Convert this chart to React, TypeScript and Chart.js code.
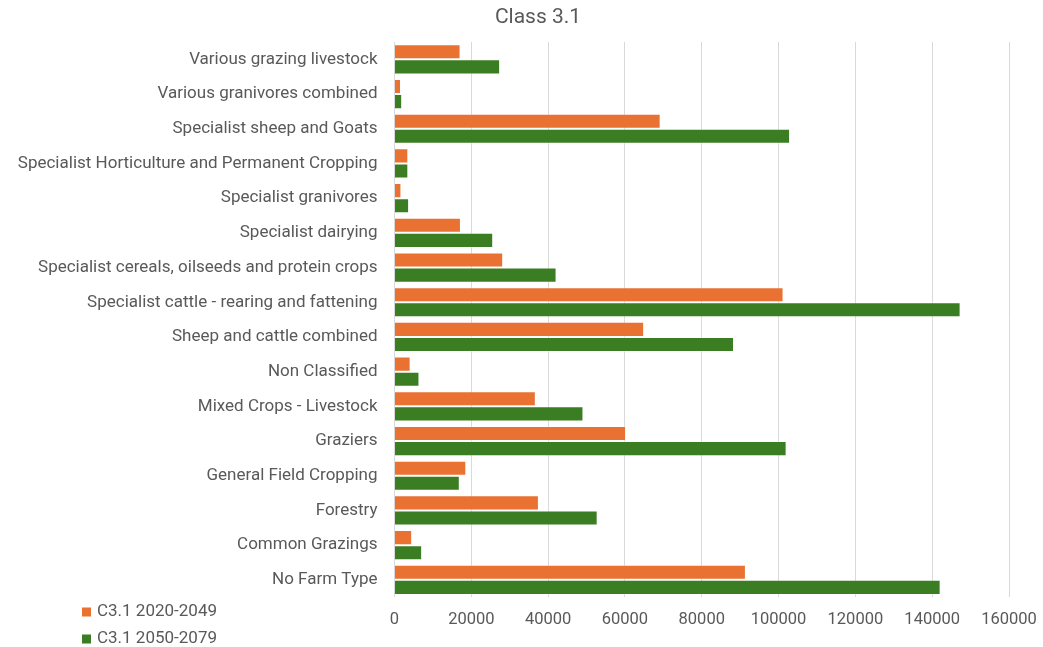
import React, { useEffect, useRef } from "react";
import { Chart, registerables } from "chart.js";

Chart.register(...registerables);

const categories: string[] = [
  "Various grazing livestock",
  "Various granivores combined",
  "Specialist sheep and Goats",
  "Specialist Horticulture and Permanent Cropping",
  "Specialist granivores",
  "Specialist dairying",
  "Specialist cereals, oilseeds and protein crops",
  "Specialist cattle - rearing and fattening",
  "Sheep and cattle combined",
  "Non Classified",
  "Mixed Crops - Livestock",
  "Graziers",
  "General Field Cropping",
  "Forestry",
  "Common Grazings",
  "No Farm Type",
];

const series2020: number[] = [
  17200, 1700, 69300, 3600, 1800, 17300, 28300, 101300, 65000, 4200, 36800, 60300, 18700, 37600, 4600, 91500,
];

const series2050: number[] = [
  27500, 2000, 103000, 3600, 3800, 25700, 42200, 147400, 88400, 6500, 49200, 102100, 17000, 52900, 7200, 142200,
];

const seriesNames: string[] = ["C3.1 2020-2049", "C3.1 2050-2079"];
const titleText = "Class 3.1";
const xTickMax = 160000;
const xTickStep = 20000;

const FONT = "Roboto";
const TEXT = "#595959";
const ORANGE = "#E97132";
const GREEN = "#3B7D23";

export default function App() {
  const ref = useRef<HTMLCanvasElement | null>(null);

  useEffect(() => {
    if (!ref.current) return;
    const overlay = {
      id: "overlay",
      afterDraw(chart: any) {
        const ctx = chart.ctx as CanvasRenderingContext2D;
        ctx.save();
        ctx.fillStyle = TEXT;
        ctx.font = `21px ${FONT}`;
        ctx.textAlign = "center";
        ctx.textBaseline = "middle";
        ctx.fillText(titleText, 538, 18);
        const colors = [ORANGE, GREEN];
        const rows = [612, 639];
        ctx.font = `17px ${FONT}`;
        ctx.textAlign = "left";
        seriesNames.forEach((name, i) => {
          ctx.fillStyle = colors[i];
          ctx.fillRect(82, rows[i] - 4.5, 9, 9);
          ctx.fillStyle = TEXT;
          ctx.fillText(name, 97, rows[i]);
        });
        ctx.restore();
      },
    };
    const chart = new Chart(ref.current, {
      type: "bar",
      data: {
        labels: categories,
        datasets: [
          {
            label: seriesNames[0],
            data: series2020,
            backgroundColor: ORANGE,
            borderColor: "rgba(255,255,255,0.35)",
            borderWidth: 1,
            categoryPercentage: 0.87,
            barPercentage: 1,
          },
          {
            label: seriesNames[1],
            data: series2050,
            backgroundColor: GREEN,
            borderColor: "rgba(255,255,255,0.35)",
            borderWidth: 1,
            categoryPercentage: 0.87,
            barPercentage: 1,
          },
        ],
      },
      options: {
        indexAxis: "y",
        responsive: false,
        animation: false,
        layout: { padding: { top: 42, right: 34, bottom: 4, left: 0 } },
        plugins: {
          legend: { display: false },
          title: { display: false },
          tooltip: { enabled: false },
        },
        scales: {
          x: {
            min: 0,
            max: xTickMax,
            ticks: {
              stepSize: xTickStep,
              color: TEXT,
              font: { family: FONT, size: 16.5 },
              padding: 13,
              maxRotation: 0,
              callback: (v: any) => String(v),
            },
            grid: { color: "#D9D9D9", drawTicks: false, lineWidth: 1 },
            border: { display: false },
            afterFit: (scale: any) => {
              scale.paddingRight = 0;
              scale.paddingLeft = 0;
            },
          },
          y: {
            ticks: {
              color: TEXT,
              font: { family: FONT, size: 17 },
              padding: 17,
              autoSkip: false,
            },
            grid: { display: false, drawTicks: false },
            border: { display: false },
            afterFit: (scale: any) => {
              scale.width = 394.5;
            },
          },
        },
      },
      plugins: [overlay],
    });
    return () => chart.destroy();
  }, []);

  return (
    <div style={{ position: "absolute", left: 0, top: 0, width: 1043, height: 647, background: "#fff" }}>
      <canvas ref={ref} width={1043} height={647} />
    </div>
  );
}
